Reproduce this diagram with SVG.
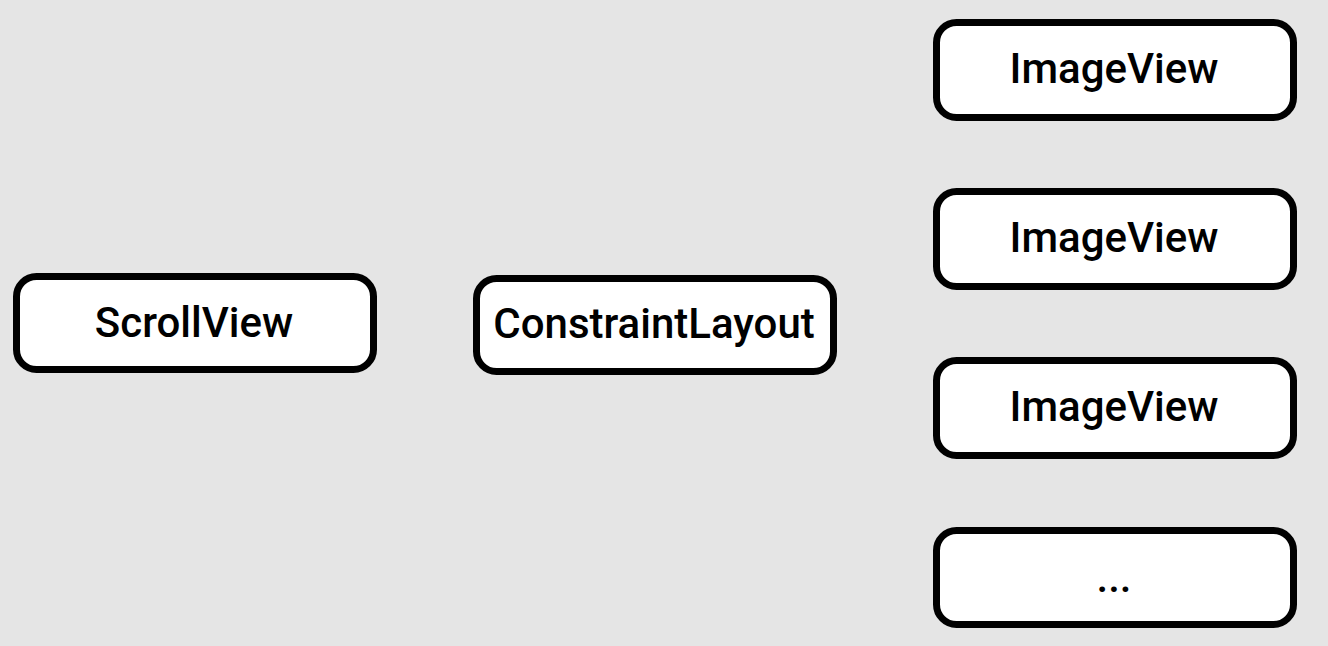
<svg xmlns="http://www.w3.org/2000/svg" width="1328" height="646" viewBox="0 0 1328 646">
<style>
.box{fill:#ffffff;stroke:#000000;stroke-width:7}
.lbl{font-family:Roboto,"Liberation Sans",sans-serif;font-size:42px;font-weight:500;fill:#000000;text-anchor:middle}
</style>
<rect x="0" y="0" width="1328" height="646" fill="#e5e5e5"/>
<g id="scrollview">
<rect class="box" x="16.5" y="276.5" width="357" height="93" rx="20"/>
<text class="lbl" x="194" y="337">ScrollView</text>
</g>
<g id="constraintlayout">
<rect class="box" x="476.5" y="278.5" width="357" height="93" rx="20"/>
<text class="lbl" x="654" y="338">ConstraintLayout</text>
</g>
<g id="imageview1">
<rect class="box" x="936.5" y="22.5" width="357" height="95" rx="20"/>
<text class="lbl" x="1114" y="83">ImageView</text>
</g>
<g id="imageview2">
<rect class="box" x="936.5" y="191.5" width="357" height="95" rx="20"/>
<text class="lbl" x="1114" y="252">ImageView</text>
</g>
<g id="imageview3">
<rect class="box" x="936.5" y="360.5" width="357" height="95" rx="20"/>
<text class="lbl" x="1114" y="421">ImageView</text>
</g>
<g id="more">
<rect class="box" x="936.5" y="530.5" width="357" height="94" rx="20"/>
<text class="lbl" x="1114" y="592">...</text>
</g>
<g id="connectors"></g>
</svg>
